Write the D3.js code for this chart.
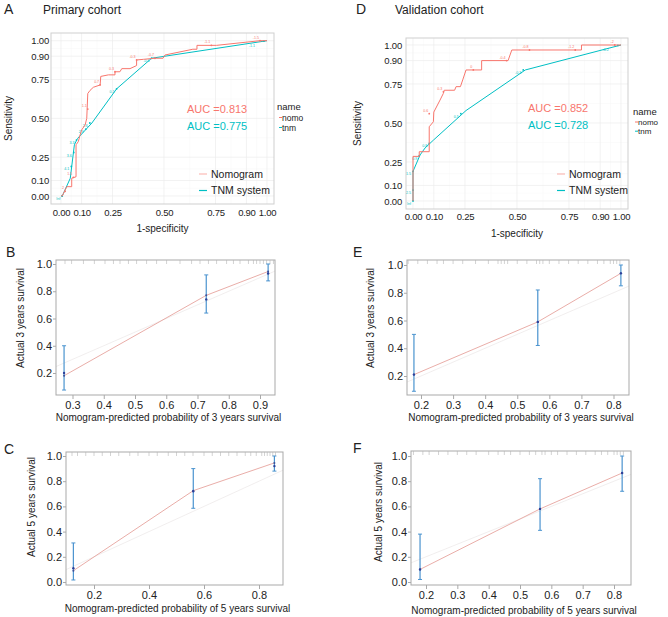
<!DOCTYPE html>
<html><head><meta charset="utf-8">
<script src="https://cdn.jsdelivr.net/npm/d3@7"></script>
<style>body{margin:0;background:#fff} svg{font-family:"Liberation Sans",Arial,sans-serif}</style>
</head><body><svg id="c" width="668" height="617"></svg>
<script>
// ---------- ROC data ----------
const rocBreaks = [0, 0.1, 0.25, 0.5, 0.75, 0.9, 1];
const rocMinor = [0.05, 0.175, 0.375, 0.625, 0.825, 0.95];

const primaryNomoFpr = [0,0.006,0.028,0.052,0.052,0.073,0.073,0.084,0.092,0.100,0.117,0.125,0.130,0.141,0.157,0.190,0.193,0.230,0.262,0.262,0.286,0.295,0.335,0.367,0.367,0.400,0.456,0.495,0.505,0.640,0.660,0.660,0.755,0.966,1];
const primaryNomoTpr = [0,0,0.060,0.060,0.114,0.124,0.330,0.350,0.390,0.425,0.457,0.500,0.660,0.680,0.700,0.715,0.770,0.780,0.780,0.800,0.800,0.820,0.820,0.840,0.876,0.880,0.887,0.887,0.908,0.945,0.945,0.970,0.970,1.0,1];
const primaryTnmFpr = [0,0.006,0.045,0.065,0.080,0.150,0.270,0.440,1];
const primaryTnmTpr = [0,0,0.114,0.330,0.370,0.470,0.690,0.887,1];

const primaryNomoCutFpr = [0.02,0.06,0.13,0.19,0.262,0.367,0.456,0.73,0.966];
const primaryNomoCutTpr = [0.03,0.12,0.56,0.715,0.80,0.876,0.887,0.97,1.0];
const primaryNomoCutLab = ["2","1.5","1.1","0.7","0.3","-0.3","-0.7","-1.1","-1.5"];
const primaryTnmCutFpr = [0.006,0.05,0.062,0.075,0.12,0.14,0.27,0.44,0.985];
const primaryTnmCutTpr = [0,0.19,0.28,0.36,0.43,0.47,0.69,0.887,0.997];
const primaryTnmCutLab = ["Inf","4.1","3.6","3.3","2.9","2.6","0.1","-0.6","-1.1"];

const validationNomoFpr = [0,0,0.030,0.030,0.078,0.078,0.098,0.100,0.130,0.146,0.150,0.200,0.207,0.228,0.239,0.255,0.330,0.330,0.457,0.475,0.810,0.810,1];
const validationNomoTpr = [0,0.286,0.286,0.316,0.316,0.476,0.508,0.570,0.647,0.690,0.710,0.710,0.733,0.733,0.776,0.840,0.840,0.900,0.900,0.968,0.968,1,1];
const validationTnmFpr = [0,0,0.034,0.058,0.098,0.255,0.540,1];
const validationTnmTpr = [0,0.190,0.295,0.340,0.390,0.580,0.840,1];

const validationNomoCutFpr = [0.078,0.146,0.29,0.45,0.56,0.78,0.97];
const validationNomoCutTpr = [0.56,0.70,0.84,0.90,0.968,0.968,1.0];
const validationNomoCutLab = ["0.6","0.3","0","-0.4","-0.8","-1.2","-2"];
const validationTnmCutFpr = [0,0,0,0.03,0.078,0.23,0.53,0.985];
const validationTnmCutTpr = [0.0,0.07,0.19,0.29,0.37,0.56,0.84,0.997];
const validationTnmCutLab = ["Inf","2.5","1.5","0.9","0.8","0.5","-0.3","-0.2"];

const aucPrimary = ["0.813", "0.775"];
const aucValidation = ["0.852", "0.728"];
const seriesNames = ["nomo", "tnm"];
const legendLabels = ["Nomogram", "TNM system"];

// ---------- Calibration data ----------
const calB_pred = [0.273, 0.728, 0.926];
const calB_obs  = [0.20, 0.74, 0.93];
const calB_line = [0.18, 0.77, 0.945];
const calB_lo   = [0.075, 0.64, 0.876];
const calB_hi   = [0.40, 0.92, 1.0];
const calB_rug  = [0.276,0.297,0.335,0.37,0.404,0.431,0.452,0.479,0.505,0.537,0.569,0.601,0.644,0.681,0.708,0.735,0.761,0.793,0.815,0.836,0.863,0.879,0.889,0.9,0.911,0.921,0.932,0.943];

const calC_pred = [0.125, 0.561, 0.856];
const calC_obs  = [0.11, 0.72, 0.92];
const calC_line = [0.09, 0.725, 0.945];
const calC_lo   = [0.016, 0.585, 0.88];
const calC_hi   = [0.31, 0.90, 1.0];
const calC_rug  = [0.12,0.14,0.17,0.2,0.23,0.26,0.29,0.33,0.36,0.4,0.43,0.47,0.5,0.53,0.56,0.6,0.63,0.66,0.69,0.72,0.75,0.77,0.79,0.81,0.82,0.83,0.84,0.85,0.86];

const calE_pred = [0.178, 0.564, 0.823];
const calE_obs  = [0.21, 0.59, 0.94];
const calE_line = [0.21, 0.59, 0.94];
const calE_lo   = [0.09, 0.42, 0.85];
const calE_hi   = [0.50, 0.82, 1.0];
const calE_rug  = [0.16,0.19,0.22,0.25,0.27,0.3,0.33,0.37,0.41,0.44,0.45,0.46,0.47,0.5,0.53,0.56,0.57,0.58,0.6,0.63,0.66,0.69,0.72,0.75,0.77,0.79,0.8,0.81,0.82];

const calF_pred = [0.181, 0.564, 0.826];
const calF_obs  = [0.10, 0.58, 0.865];
const calF_line = [0.10, 0.58, 0.865];
const calF_lo   = [0.02, 0.41, 0.72];
const calF_hi   = [0.38, 0.82, 1.0];
const calF_rug  = [0.16,0.19,0.21,0.24,0.27,0.3,0.33,0.36,0.4,0.43,0.45,0.47,0.5,0.53,0.55,0.57,0.58,0.6,0.62,0.65,0.68,0.71,0.74,0.76,0.78,0.8,0.81,0.82,0.83];

const ticks3B = [0.3,0.4,0.5,0.6,0.7,0.8,0.9];
const ticksC = [0.2,0.4,0.6,0.8];
const ticksEF = [0.2,0.3,0.4,0.5,0.6,0.7,0.8];
const yTicks02 = [0.2,0.4,0.6,0.8,1.0];
const yTicks00 = [0,0.2,0.4,0.6,0.8,1.0];

const RED = "#F8766D", CYAN = "#00BFC4";
const svg = d3.select("#c");

function txt(x, y, s, opt = {}) {
  const t = svg.append("text").attr("x", x).attr("y", y).text(s)
    .attr("font-size", opt.size || 10).attr("fill", opt.fill || "#222")
    .attr("text-anchor", opt.anchor || "start");
  if (opt.rotate) t.attr("transform", `rotate(-90,${x},${y})`);
  return t;
}

function drawROC(c) {
  const x = d3.scaleLinear().domain([0, 1]).range([c.x0, c.x1]);
  const y = d3.scaleLinear().domain([0, 1]).range([c.y0, c.y1]);
  const g = svg.append("g");
  // grid
  g.selectAll(null).data(rocMinor).join("line")
    .attr("x1", d => x(d)).attr("x2", d => x(d)).attr("y1", c.top).attr("y2", c.bottom)
    .attr("stroke", "#f6f6f6").attr("stroke-width", 0.5);
  g.selectAll(null).data(rocMinor).join("line")
    .attr("y1", d => y(d)).attr("y2", d => y(d)).attr("x1", c.left).attr("x2", c.right)
    .attr("stroke", "#f6f6f6").attr("stroke-width", 0.5);
  g.selectAll(null).data(rocBreaks).join("line")
    .attr("x1", d => x(d)).attr("x2", d => x(d)).attr("y1", c.top).attr("y2", c.bottom)
    .attr("stroke", "#ededed").attr("stroke-width", 0.7);
  g.selectAll(null).data(rocBreaks).join("line")
    .attr("y1", d => y(d)).attr("y2", d => y(d)).attr("x1", c.left).attr("x2", c.right)
    .attr("stroke", "#ededed").attr("stroke-width", 0.7);
  g.append("rect").attr("x", c.left).attr("y", c.top).attr("width", c.right - c.left)
    .attr("height", c.bottom - c.top).attr("fill", "none").attr("stroke", "#cfcfcf").attr("stroke-width", 1);

  // axes
  const ax = g.append("g").attr("transform", `translate(0,${c.bottom})`)
    .call(d3.axisBottom(x).tickValues(rocBreaks).tickFormat(d3.format(".2f")).tickSize(0).tickPadding(c.xPad));
  ax.select(".domain").remove();
  ax.selectAll("text").attr("font-size", 9.5).attr("letter-spacing", -0.3).attr("fill", "#222").attr("font-family", null);
  const ay = g.append("g").attr("transform", `translate(${c.left},0)`)
    .call(d3.axisLeft(y).tickValues(rocBreaks).tickFormat(d3.format(".2f")).tickSize(0).tickPadding(c.yPad));
  ay.select(".domain").remove();
  ay.selectAll("text").attr("font-size", 9.5).attr("letter-spacing", -0.2).attr("fill", "#222").attr("font-family", null);

  txt((c.left + c.right) / 2, c.xTitleY, "1-specificity", { anchor: "middle" });
  txt(c.yTitleX, (c.top + c.bottom) / 2, "Sensitivity", { anchor: "middle", rotate: true });

  const line = d3.line().x(d => x(d[0])).y(d => y(d[1]));
  const series = [
    { f: c.tnmF, t: c.tnmT, col: CYAN, cf: c.tnmCF, ct: c.tnmCT, cl: c.tnmCL, dx: -2, dy: 4, anchor: "end" },
    { f: c.nomoF, t: c.nomoT, col: RED, cf: c.nomoCF, ct: c.nomoCT, cl: c.nomoCL, dx: -1, dy: -2, anchor: "end" }
  ];
  series.forEach((s, si) => {
    g.append("path").datum(d3.zip(s.f, s.t)).attr("d", line)
      .attr("fill", "none").attr("stroke", s.col).attr("stroke-width", 1);
    const pts = d3.zip(s.cf, s.ct, s.cl);
    g.selectAll(null).data(pts).join("circle")
      .attr("cx", d => x(d[0])).attr("cy", d => y(d[1])).attr("r", 0.9).attr("fill", s.col);
    g.selectAll(null).data(pts).join("text")
      .attr("x", (d, i) => x(d[0]) + (si === 0 && i === pts.length - 1 ? -9 : s.dx))
      .attr("y", (d, i) => y(d[1]) + (si === 0 && i === pts.length - 1 ? 6 : s.dy))
      .text(d => d[2])
      .attr("font-size", 3.6).attr("fill", s.col).attr("text-anchor", s.anchor);
  });

  // AUC text
  txt(c.aucX, c.aucY, "AUC =" + c.auc[0], { fill: RED, size: 11 });
  txt(c.aucX, c.aucY + 17, "AUC =" + c.auc[1], { fill: CYAN, size: 11 });

  // inner legend
  [RED, CYAN].forEach((col, i) => {
    const ly = c.legY + i * 16.5;
    g.append("line").attr("x1", c.legX).attr("x2", c.legX + 8).attr("y1", ly).attr("y2", ly)
      .attr("stroke", col).attr("stroke-width", i === 0 ? 0.6 : 1.2);
    txt(c.legX + 12, ly + 3.5, legendLabels[i], { size: 10.5 });
  });

  // outer legend
  txt(c.nameX, c.nameY, "name", { size: 9.5 });
  [RED, CYAN].forEach((col, i) => {
    const ly = c.nameY + c.nameFirst + i * c.nameGap;
    g.append("line").attr("x1", c.nameX + 2).attr("x2", c.nameX + 5).attr("y1", ly - 3).attr("y2", ly - 3)
      .attr("stroke", col).attr("stroke-width", 1);
    txt(c.nameX + 5, ly, seriesNames[i], { size: c.nameSize });
  });
}

drawROC({
  x0: 61, x1: 267, y0: 196, y1: 40.7, left: 51, right: 274, top: 33, bottom: 204,
  xPad: 5, yPad: 2, xTitleY: 232, yTitleX: 12,
  nomoF: primaryNomoFpr, nomoT: primaryNomoTpr, tnmF: primaryTnmFpr, tnmT: primaryTnmTpr,
  nomoCF: primaryNomoCutFpr, nomoCT: primaryNomoCutTpr, nomoCL: primaryNomoCutLab,
  tnmCF: primaryTnmCutFpr, tnmCT: primaryTnmCutTpr, tnmCL: primaryTnmCutLab,
  auc: aucPrimary, aucX: 187, aucY: 113, legX: 199, legY: 174,
  nameX: 277, nameY: 110, nameFirst: 10.5, nameGap: 10, nameSize: 8.5
});
drawROC({
  x0: 413, x1: 621, y0: 201, y1: 45, left: 406, right: 628, top: 38, bottom: 209,
  xPad: 4.5, yPad: 4, xTitleY: 237, yTitleX: 361,
  nomoF: validationNomoFpr, nomoT: validationNomoTpr, tnmF: validationTnmFpr, tnmT: validationTnmTpr,
  nomoCF: validationNomoCutFpr, nomoCT: validationNomoCutTpr, nomoCL: validationNomoCutLab,
  tnmCF: validationTnmCutFpr, tnmCT: validationTnmCutTpr, tnmCL: validationTnmCutLab,
  auc: aucValidation, aucX: 528, aucY: 112, legX: 557, legY: 174,
  nameX: 633, nameY: 114.5, nameFirst: 10.5, nameGap: 9.2, nameSize: 8
});

// titles
txt(4, 14, "A", { size: 14 });
txt(43, 14, "Primary cohort", { size: 12 });
txt(356, 14, "D", { size: 14 });
txt(395, 14, "Validation cohort", { size: 12 });
txt(6, 257, "B", { size: 14 });
txt(4, 454, "C", { size: 14 });
txt(353, 257, "E", { size: 14 });
txt(353, 453, "F", { size: 14 });

function drawCal(c) {
  const x = d3.scaleLinear().domain(c.xd).range(c.xr);
  const y = d3.scaleLinear().domain(c.yd).range(c.yr);
  const g = svg.append("g");
  const clipId = "clip" + c.id;
  svg.append("clipPath").attr("id", clipId).append("rect")
    .attr("x", c.left).attr("y", c.top).attr("width", c.right - c.left).attr("height", c.bottom - c.top);
  // ideal line
  g.append("line").attr("clip-path", `url(#${clipId})`)
    .attr("x1", x(0)).attr("y1", y(0)).attr("x2", x(1)).attr("y2", y(1))
    .attr("stroke", "#eeeaea").attr("stroke-width", 0.8);
  g.append("rect").attr("x", c.left).attr("y", c.top).attr("width", c.right - c.left)
    .attr("height", c.bottom - c.top).attr("fill", "none").attr("stroke", "#a9a9a9").attr("stroke-width", 1);
  // rug
  g.selectAll(null).data(c.rug).join("line")
    .attr("x1", d => x(d)).attr("x2", d => x(d)).attr("y1", c.top).attr("y2", c.top + 4)
    .attr("stroke", "#b5b5b5").attr("stroke-width", 0.6);
  // axes
  const ax = g.append("g").attr("transform", `translate(0,${c.bottom})`)
    .call(d3.axisBottom(x).tickValues(c.xt).tickFormat(d3.format(".1f")).tickSize(4).tickPadding(2));
  ax.select(".domain").remove();
  ax.selectAll("line").attr("stroke", "#a9a9a9");
  ax.selectAll("text").attr("font-size", 11).attr("fill", "#222").attr("font-family", null);
  const ay = g.append("g").attr("transform", `translate(${c.left},0)`)
    .call(d3.axisLeft(y).tickValues(c.yt).tickFormat(d3.format(".1f")).tickSize(3).tickPadding(1));
  ay.select(".domain").remove();
  ay.selectAll("line").attr("stroke", "#a9a9a9");
  ay.selectAll("text").attr("font-size", 11).attr("fill", "#222").attr("font-family", null);

  txt((c.left + c.right) / 2 + c.xTitleDx, c.xTitleY, c.xTitle, { anchor: "middle", size: 10 });
  txt(c.yTitleX, c.yTitleY, c.yTitle, { anchor: "middle", size: 10, rotate: true });

  // red calibration line
  g.append("path").datum(d3.zip(c.pred, c.line))
    .attr("d", d3.line().x(d => x(d[0])).y(d => y(d[1])))
    .attr("fill", "none").attr("stroke", "#e6a49e").attr("stroke-width", 0.9);
  // error bars
  const eb = d3.zip(c.pred, c.lo, c.hi);
  g.selectAll(null).data(eb).join("line")
    .attr("x1", d => x(d[0])).attr("x2", d => x(d[0])).attr("y1", d => y(d[1])).attr("y2", d => y(d[2]))
    .attr("stroke", "#4a93cf").attr("stroke-width", 1.2);
  [1, 2].forEach(k => {
    g.selectAll(null).data(eb).join("line")
      .attr("x1", d => x(d[0]) - 2).attr("x2", d => x(d[0]) + 2)
      .attr("y1", d => y(d[k])).attr("y2", d => y(d[k]))
      .attr("stroke", "#4a93cf").attr("stroke-width", 1);
  });
  g.selectAll(null).data(d3.zip(c.pred, c.line)).join("circle")
    .attr("cx", d => x(d[0])).attr("cy", d => y(d[1])).attr("r", 1).attr("fill", "#3b4f9a");
  g.selectAll(null).data(d3.zip(c.pred, c.obs)).join("circle")
    .attr("cx", d => x(d[0])).attr("cy", d => y(d[1])).attr("r", 1.2).attr("fill", "#2c3f98");
}

drawCal({ id: "B", xd: [0.3, 0.9], xr: [72.5, 260], yd: [0.2, 1.0], yr: [373, 264],
  left: 56, right: 275, top: 260, bottom: 395, xt: ticks3B, yt: yTicks02,
  pred: calB_pred, obs: calB_obs, line: calB_line, lo: calB_lo, hi: calB_hi, rug: calB_rug,
  xTitle: "Nomogram-predicted probability of 3 years survival", xTitleY: 421, xTitleDx: 3,
  yTitle: "Actual 3 years survival", yTitleX: 24, yTitleY: 318 });
drawCal({ id: "C", xd: [0.2, 0.8], xr: [94, 259], yd: [0, 1], yr: [582, 456],
  left: 66, right: 283, top: 452, bottom: 585, xt: ticksC, yt: yTicks00,
  pred: calC_pred, obs: calC_obs, line: calC_line, lo: calC_lo, hi: calC_hi, rug: calC_rug,
  xTitle: "Nomogram-predicted probability of 5 years survival", xTitleY: 612, xTitleDx: 3,
  yTitle: "Actual 5 years survival", yTitleX: 35, yTitleY: 507 });
drawCal({ id: "E", xd: [0.2, 0.8], xr: [421, 613.5], yd: [0.2, 1.0], yr: [376, 265],
  left: 407, right: 629, top: 260, bottom: 395, xt: ticksEF, yt: yTicks02,
  pred: calE_pred, obs: calE_obs, line: calE_line, lo: calE_lo, hi: calE_hi, rug: calE_rug,
  xTitle: "Nomogram-predicted probability of 3 years survival", xTitleY: 421, xTitleDx: 3,
  yTitle: "Actual 3 years survival", yTitleX: 374, yTitleY: 318 });
drawCal({ id: "F", xd: [0.2, 0.8], xr: [426, 614], yd: [0, 1], yr: [582, 456],
  left: 411, right: 631, top: 451, bottom: 585, xt: ticksEF, yt: yTicks00,
  pred: calF_pred, obs: calF_obs, line: calF_line, lo: calF_lo, hi: calF_hi, rug: calF_rug,
  xTitle: "Nomogram-predicted probability of 5 years survival", xTitleY: 614, xTitleDx: 3,
  yTitle: "Actual 5 years survival", yTitleX: 382, yTitleY: 512 });
</script>
</body></html>
